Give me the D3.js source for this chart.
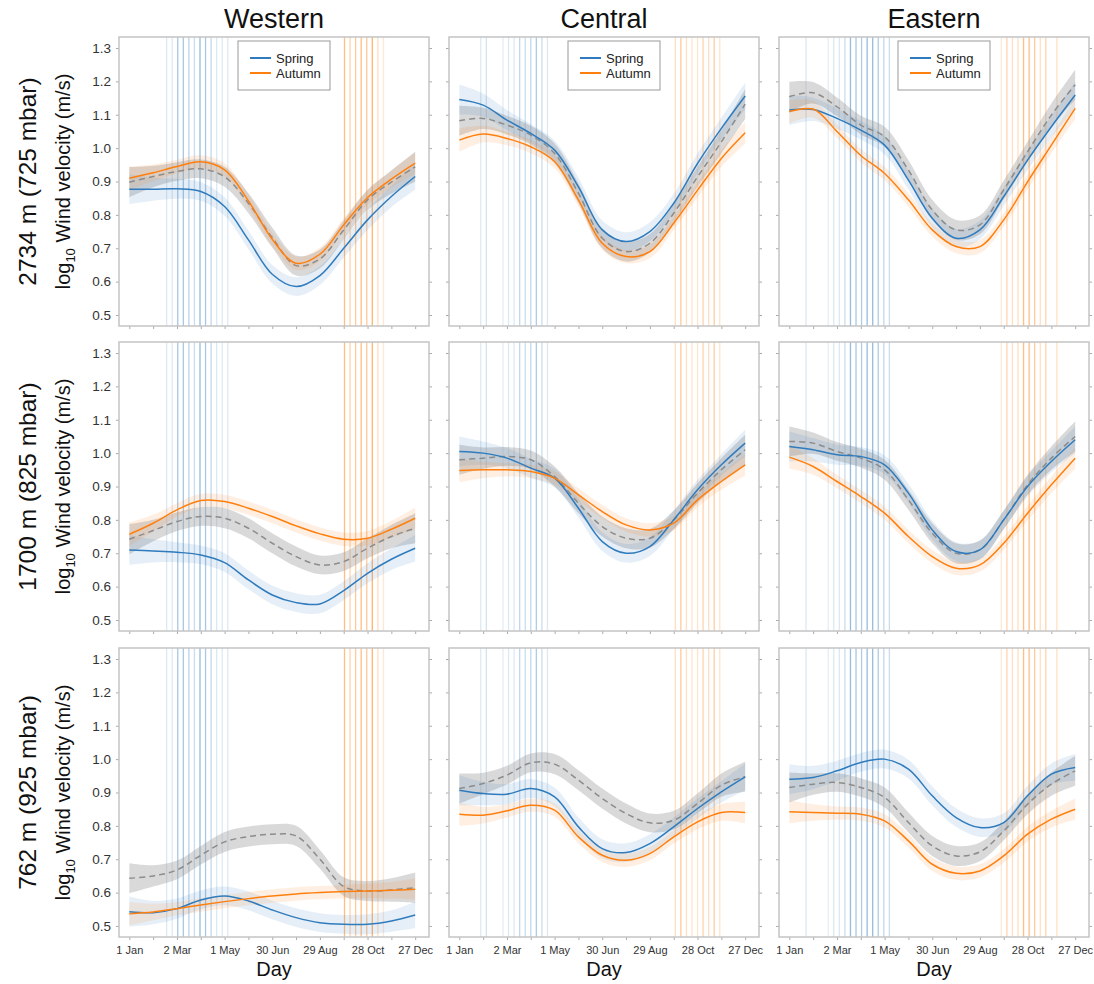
<!DOCTYPE html>
<html>
<head>
<meta charset="utf-8">
<script src="https://cdn.jsdelivr.net/npm/d3@7"></script>
<style>
  body { margin: 0; background: #fff; }
  text { font-family: "Liberation Sans", Arial, sans-serif; }
</style>
</head>
<body>
<div id="chart"></div>
<script>
// sample days (every 30 days)
const days = [1, 31, 61, 91, 121, 151, 181, 211, 241, 271, 301, 331, 361];
const tickDays = [1, 31, 61, 91, 121, 151, 181, 211, 241, 271, 301, 331, 361];
const labelDays = [1, 61, 121, 181, 241, 301, 361];
const dayLabels = ['1 Jan', '2 Mar', '1 May', '30 Jun', '29 Aug', '28 Oct', '27 Dec'];
const yTicks = [0.5, 0.6, 0.7, 0.8, 0.9, 1.0, 1.1, 1.2, 1.3];
const regions = ['Western', 'Central', 'Eastern'];
const altitudes = ['2734 m (725 mbar)', '1700 m (825 mbar)', '762 m (925 mbar)'];

// migration weeks (day of year) and their shading
const springDaysW = [48, 55, 62, 69, 76, 83, 90, 97, 104, 111, 118, 125];
const springAlphaW = [0.2, 0.2, 0.5, 0.5, 0.4, 0.3, 0.6, 0.5, 0.35, 0.2, 0.2, 0.2];
const autumnDaysW = [272, 279, 286, 293, 300, 307, 314, 321];
const autumnAlphaW = [0.6, 0.4, 0.5, 0.6, 0.5, 0.7, 0.3, 0.2];
const springDaysC = [28, 35, 56, 63, 70, 77, 84, 91, 98, 105, 112];
const springAlphaC = [0.2, 0.25, 0.15, 0.2, 0.2, 0.35, 0.3, 0.35, 0.45, 0.3, 0.2];
const autumnDaysC = [273, 280, 287, 294, 301, 308, 315, 322, 329];
const autumnAlphaC = [0.3, 0.5, 0.3, 0.25, 0.25, 0.4, 0.3, 0.45, 0.25];
const springDaysE = [22, 50, 57, 64, 71, 78, 85, 92, 99, 106, 113, 120, 127];
const springAlphaE = [0.2, 0.15, 0.2, 0.2, 0.3, 0.6, 0.5, 0.45, 0.6, 0.6, 0.45, 0.35, 0.3];
const autumnDaysE = [268, 275, 282, 289, 296, 303, 310, 317, 324, 338];
const autumnAlphaE = [0.2, 0.4, 0.3, 0.3, 0.6, 0.6, 0.5, 0.3, 0.4, 0.3];

// 2734 m
const w1Spring = [0.877, 0.877, 0.878, 0.870, 0.825, 0.725, 0.622, 0.585, 0.618, 0.700, 0.785, 0.855, 0.915];
const w1Autumn = [0.910, 0.926, 0.945, 0.959, 0.935, 0.842, 0.727, 0.655, 0.682, 0.770, 0.852, 0.907, 0.955];
const w1All    = [0.898, 0.915, 0.930, 0.938, 0.914, 0.835, 0.732, 0.648, 0.668, 0.755, 0.845, 0.898, 0.944];
const c1Spring = [1.146, 1.129, 1.084, 1.044, 0.994, 0.884, 0.755, 0.720, 0.750, 0.835, 0.954, 1.059, 1.156];
const c1Autumn = [1.024, 1.042, 1.029, 1.004, 0.960, 0.845, 0.715, 0.675, 0.690, 0.775, 0.874, 0.969, 1.046];
const c1All    = [1.082, 1.089, 1.069, 1.039, 0.984, 0.865, 0.730, 0.690, 0.715, 0.805, 0.914, 1.019, 1.132];
const e1Spring = [1.114, 1.116, 1.089, 1.054, 1.009, 0.904, 0.790, 0.730, 0.755, 0.855, 0.964, 1.064, 1.159];
const e1Autumn = [1.109, 1.117, 1.050, 0.978, 0.924, 0.845, 0.755, 0.705, 0.705, 0.785, 0.899, 1.009, 1.119];
const e1All    = [1.154, 1.166, 1.124, 1.069, 1.034, 0.934, 0.815, 0.755, 0.770, 0.875, 0.989, 1.099, 1.190];
// 1700 m
const w2Spring = [0.710, 0.707, 0.703, 0.695, 0.672, 0.620, 0.575, 0.552, 0.548, 0.588, 0.640, 0.682, 0.715];
const w2Autumn = [0.757, 0.790, 0.830, 0.858, 0.855, 0.835, 0.810, 0.782, 0.758, 0.742, 0.745, 0.772, 0.805];
const w2All    = [0.742, 0.768, 0.795, 0.810, 0.805, 0.775, 0.730, 0.690, 0.665, 0.675, 0.715, 0.750, 0.775];
const c2Spring = [1.005, 1.000, 0.985, 0.955, 0.925, 0.835, 0.735, 0.700, 0.720, 0.800, 0.890, 0.965, 1.030];
const c2Autumn = [0.948, 0.950, 0.950, 0.945, 0.925, 0.875, 0.825, 0.785, 0.770, 0.790, 0.860, 0.915, 0.965];
const c2All    = [0.980, 0.985, 0.990, 0.980, 0.930, 0.850, 0.780, 0.745, 0.745, 0.800, 0.880, 0.950, 1.010];
const e2Spring = [1.020, 1.010, 0.995, 0.990, 0.965, 0.880, 0.770, 0.705, 0.710, 0.800, 0.900, 0.975, 1.040];
const e2Autumn = [0.988, 0.960, 0.915, 0.870, 0.820, 0.750, 0.690, 0.655, 0.665, 0.730, 0.820, 0.905, 0.985];
const e2All    = [1.035, 1.030, 1.005, 0.985, 0.950, 0.860, 0.760, 0.700, 0.710, 0.800, 0.905, 0.985, 1.050];
// 762 m
const w3Spring = [0.543, 0.540, 0.552, 0.578, 0.590, 0.575, 0.548, 0.525, 0.510, 0.505, 0.505, 0.515, 0.533];
const w3Autumn = [0.537, 0.542, 0.552, 0.563, 0.573, 0.582, 0.590, 0.596, 0.600, 0.603, 0.605, 0.607, 0.610];
const w3All    = [0.643, 0.650, 0.668, 0.712, 0.752, 0.768, 0.775, 0.770, 0.700, 0.618, 0.605, 0.608, 0.615];
const c3Spring = [0.907, 0.897, 0.895, 0.912, 0.887, 0.797, 0.732, 0.720, 0.747, 0.797, 0.852, 0.902, 0.947];
const c3Autumn = [0.835, 0.832, 0.845, 0.862, 0.847, 0.767, 0.712, 0.697, 0.717, 0.767, 0.812, 0.840, 0.840];
const c3All    = [0.912, 0.927, 0.952, 0.989, 0.985, 0.937, 0.882, 0.837, 0.809, 0.817, 0.867, 0.922, 0.947];
const e3Spring = [0.940, 0.945, 0.965, 0.990, 1.000, 0.970, 0.890, 0.825, 0.795, 0.810, 0.890, 0.955, 0.975];
const e3Autumn = [0.842, 0.840, 0.838, 0.835, 0.815, 0.755, 0.685, 0.658, 0.665, 0.710, 0.775, 0.820, 0.850];
const e3All    = [0.915, 0.925, 0.930, 0.915, 0.885, 0.810, 0.740, 0.710, 0.722, 0.785, 0.865, 0.925, 0.965];

// half widths of the confidence ribbons
const bandSpring = [0.045, 0.035, 0.03, 0.028, 0.028, 0.028, 0.028, 0.028, 0.028, 0.028, 0.03, 0.032, 0.04];
const bandAutumn = [0.035, 0.025, 0.02, 0.02, 0.02, 0.02, 0.02, 0.02, 0.02, 0.02, 0.022, 0.025, 0.032];
const bandAll    = [0.045, 0.032, 0.028, 0.028, 0.03, 0.03, 0.03, 0.03, 0.028, 0.028, 0.03, 0.035, 0.045];

const panelData = [
  [[w1Spring, w1Autumn, w1All], [c1Spring, c1Autumn, c1All], [e1Spring, e1Autumn, e1All]],
  [[w2Spring, w2Autumn, w2All], [c2Spring, c2Autumn, c2All], [e2Spring, e2Autumn, e2All]],
  [[w3Spring, w3Autumn, w3All], [c3Spring, c3Autumn, c3All], [e3Spring, e3Autumn, e3All]]
];
const migration = [
  [springDaysW, springAlphaW, autumnDaysW, autumnAlphaW],
  [springDaysC, springAlphaC, autumnDaysC, autumnAlphaC],
  [springDaysE, springAlphaE, autumnDaysE, autumnAlphaE]
];

const blue = '#2f7bbd', orange = '#ff7f0e', grey = '#8c8c8c';
const colLeft = [119, 449, 779], rowTop = [37, 342, 648];
const panelW = 310, panelH = 289;

const svg = d3.select('#chart').append('svg').attr('width', 1094).attr('height', 984);

const x = d3.scaleLinear().domain([-12, 378.4]).range([0, panelW]);
const y = d3.scaleLinear().domain([0.467, 1.333]).range([panelH, 0]);

const toPts = (vals, band) => vals.map((v, i) => ({day: days[i], v, b: band[i]}));
const area = d3.area().x(d => x(d.day)).y0(d => y(d.v - d.b)).y1(d => y(d.v + d.b)).curve(d3.curveCatmullRom);
const line = d3.line().x(d => x(d.day)).y(d => y(d.v)).curve(d3.curveCatmullRom);

rowTop.forEach((top, r) => {
  colLeft.forEach((left, c) => {
    const g = svg.append('g').attr('transform', `translate(${left},${top})`);
    const [sDays, sAlpha, aDays, aAlpha] = migration[c];

    // migration weeks
    g.selectAll('line.spring').data(sDays).join('line')
      .attr('x1', d => x(d)).attr('x2', d => x(d)).attr('y1', 0).attr('y2', panelH)
      .attr('stroke', blue).attr('stroke-width', 1.3).attr('stroke-opacity', (d, i) => sAlpha[i] * 0.85);
    g.selectAll('line.autumn').data(aDays).join('line')
      .attr('x1', d => x(d)).attr('x2', d => x(d)).attr('y1', 0).attr('y2', panelH)
      .attr('stroke', orange).attr('stroke-width', 1.3).attr('stroke-opacity', (d, i) => aAlpha[i] * 0.85);

    const [sp, au, al] = panelData[r][c];
    const spPts = toPts(sp, bandSpring), auPts = toPts(au, bandAutumn), alPts = toPts(al, bandAll);

    g.append('path').attr('d', area(alPts)).attr('fill', '#9a9a9a').attr('fill-opacity', 0.38);
    g.append('path').attr('d', area(spPts)).attr('fill', blue).attr('fill-opacity', 0.12);
    g.append('path').attr('d', area(auPts)).attr('fill', orange).attr('fill-opacity', 0.12);

    g.append('path').attr('d', line(alPts)).attr('fill', 'none').attr('stroke', grey)
      .attr('stroke-width', 1.5).attr('stroke-dasharray', '6,4');
    g.append('path').attr('d', line(spPts)).attr('fill', 'none').attr('stroke', blue).attr('stroke-width', 1.5);
    g.append('path').attr('d', line(auPts)).attr('fill', 'none').attr('stroke', orange).attr('stroke-width', 1.5);

    // axes
    const ax = g.append('g').attr('transform', `translate(0,${panelH})`)
      .call(d3.axisBottom(x).tickValues(tickDays).tickSize(3).tickPadding(6)
        .tickFormat(d => r === 2 && labelDays.includes(d) ? dayLabels[labelDays.indexOf(d)] : ''));
    const ayl = g.append('g')
      .call(d3.axisLeft(y).tickValues(yTicks).tickSize(3).tickPadding(5)
        .tickFormat(d => c === 0 ? d3.format('.1f')(d) : ''));
    const ayr = g.append('g').attr('transform', `translate(${panelW},0)`)
      .call(d3.axisRight(y).tickValues(yTicks).tickSize(3).tickFormat(''));
    [ax, ayl, ayr].forEach(a => {
      a.select('.domain').remove();
      a.selectAll('.tick line').attr('stroke', '#aaa');
      a.selectAll('.tick text').attr('fill', '#333');
    });
    ax.selectAll('.tick text').attr('font-size', 11);
    ayl.selectAll('.tick text').attr('font-size', 13.5);

    g.append('rect').attr('width', panelW).attr('height', panelH)
      .attr('fill', 'none').attr('stroke', '#c4c4c4').attr('stroke-width', 1.5);

    // legend
    if (r === 0) {
      const lg = g.append('g').attr('transform', `translate(${panelW / 2 - 36},4)`);
      lg.append('rect').attr('width', 92).attr('height', 49)
        .attr('fill', '#fff').attr('stroke', '#999').attr('stroke-width', 1);
      [['Spring', blue], ['Autumn', orange]].forEach(([name, col], i) => {
        const yy = 17 + i * 15;
        lg.append('line').attr('x1', 12).attr('x2', 33).attr('y1', yy).attr('y2', yy)
          .attr('stroke', col).attr('stroke-width', 2);
        lg.append('text').attr('x', 38).attr('y', yy + 4.5).attr('font-size', 13).attr('fill', '#222').text(name);
      });
    }
  });
});

// column titles and x labels
colLeft.forEach((left, c) => {
  svg.append('text').attr('x', left + panelW / 2).attr('y', 28).attr('text-anchor', 'middle')
    .attr('font-size', 27).attr('fill', '#111').text(regions[c]);
  svg.append('text').attr('x', left + panelW / 2).attr('y', 976).attr('text-anchor', 'middle')
    .attr('font-size', 20).attr('fill', '#111').text('Day');
});

// row labels
rowTop.forEach((top, r) => {
  const cy = top + panelH / 2;
  svg.append('text').attr('transform', `translate(36,${cy}) rotate(-90)`).attr('text-anchor', 'middle')
    .attr('font-size', 24.5).attr('fill', '#111').text(altitudes[r]);
  const t = svg.append('text').attr('transform', `translate(70,${cy}) rotate(-90)`).attr('text-anchor', 'middle')
    .attr('font-size', 20).attr('fill', '#111');
  t.append('tspan').text('log');
  t.append('tspan').attr('font-size', 13).attr('dy', 5).text('10');
  t.append('tspan').attr('dy', -5).text(' Wind velocity (m/s)');
});
</script>
</body>
</html>
